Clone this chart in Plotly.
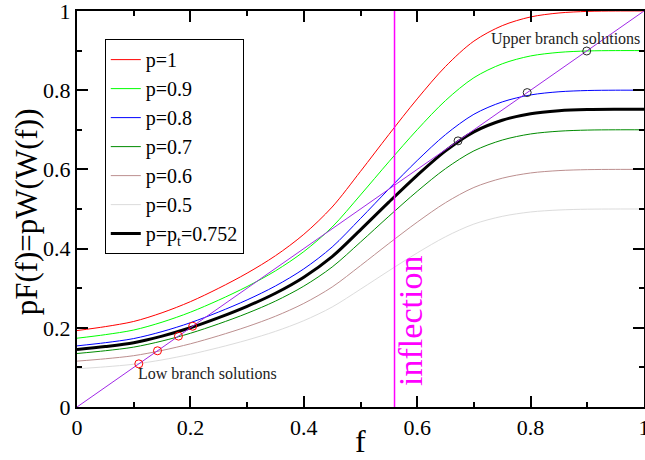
import plotly.graph_objects as go

# f grid and the p = 1 response F(f) = W(W(f))
f_grid = [0.00, 0.05, 0.10, 0.15, 0.20, 0.25, 0.30, 0.35, 0.40, 0.45, 0.50,
          0.55, 0.60, 0.65, 0.70, 0.75, 0.80, 0.85, 0.90, 0.95, 1.00]
F_base = [0.193, 0.203, 0.216, 0.238, 0.266, 0.300, 0.338, 0.382, 0.436, 0.505, 0.595,
          0.688, 0.778, 0.860, 0.924, 0.963, 0.985, 0.995, 0.999, 1.000, 1.000]

# one curve per p value
p_values = [1.0, 0.9, 0.8, 0.7, 0.6, 0.5, 0.752]
p_labels = ["p=1", "p=0.9", "p=0.8", "p=0.7", "p=0.6", "p=0.5", "p=p<sub>t</sub>=0.752"]
p_colors = ["rgb(255,0,0)", "rgb(0,255,0)", "rgb(0,0,255)", "rgb(0,139,0)",
            "rgb(188,143,143)", "rgb(220,220,220)", "rgb(0,0,0)"]
p_widths = [1, 1, 1, 1, 1, 1, 3]

# fixed points pF(f) = f
low_branch = [0.109, 0.142, 0.179, 0.204]
upper_branch = [0.672, 0.794, 0.899]

inflection_f = 0.56

tick_vals = [0, 0.2, 0.4, 0.6, 0.8, 1.0]
tick_text = ["0", "0.2", "0.4", "0.6", "0.8", "1"]

SERIF = "Liberation Serif, Times New Roman, serif"

fig = go.Figure()

for p, name, col, w in zip(p_values, p_labels, p_colors, p_widths):
    fig.add_trace(go.Scatter(
        x=f_grid, y=[p * v for v in F_base], mode="lines", name=name,
        line=dict(color=col, width=w, shape="spline", smoothing=0.9),
    ))

# diagonal y = f
fig.add_trace(go.Scatter(x=[0, 1], y=[0, 1], mode="lines", showlegend=False,
                         line=dict(color="rgb(160,40,230)", width=1)))

# inflection marker
fig.add_trace(go.Scatter(x=[inflection_f, inflection_f], y=[0, 1], mode="lines",
                         showlegend=False, line=dict(color="rgb(255,0,255)", width=1.5)))

fig.add_trace(go.Scatter(x=low_branch, y=low_branch, mode="markers", showlegend=False,
                         marker=dict(symbol="circle-open", size=8, color="rgb(255,0,0)",
                                     line=dict(width=1, color="rgb(255,0,0)"))))
fig.add_trace(go.Scatter(x=upper_branch, y=upper_branch, mode="markers", showlegend=False,
                         marker=dict(symbol="circle-open", size=8, color="rgb(40,40,40)",
                                     line=dict(width=1, color="rgb(40,40,40)"))))

axis_common = dict(
    range=[0, 1], tickmode="array", tickvals=tick_vals, ticktext=tick_text,
    ticklabeloverflow="allow", automargin=False,
    ticks="inside", ticklen=11, tickwidth=1.5, tickcolor="black",
    minor=dict(dtick=0.1, tick0=0, ticks="inside", ticklen=5, tickwidth=1.5,
               tickcolor="black"),
    showline=True, linecolor="black", linewidth=2, mirror="ticks",
    showgrid=False, zeroline=False,
    tickfont=dict(family=SERIF, size=22, color="black"),
)
fig.update_xaxes(**axis_common)
fig.update_yaxes(**axis_common)

fig.update_layout(
    width=645, height=460,
    margin=dict(l=77, r=1, t=11, b=53, autoexpand=False),
    font=dict(family=SERIF, color="black"),
    paper_bgcolor="white", plot_bgcolor="white",
    legend=dict(x=0.049, y=0.929, xanchor="left", yanchor="top",
                bgcolor="white", bordercolor="black", borderwidth=1,
                font=dict(family=SERIF, size=20, color="black"),
                tracegroupgap=0),
    annotations=[
        dict(text="f", xref="paper", yref="paper", x=0.5, y=-0.085,
             xanchor="center", yanchor="middle", showarrow=False,
             font=dict(family=SERIF, size=32, color="black")),
        dict(text="pF(f)=pW(W(f))", xref="paper", yref="paper", x=-0.09, y=0.494,
             xanchor="center", yanchor="middle", textangle=-90, showarrow=False,
             font=dict(family=SERIF, size=31, color="black")),
        dict(text="inflection", x=0.587, y=0.217, xref="x", yref="y",
             xanchor="center", yanchor="middle", textangle=-90, showarrow=False,
             font=dict(family=SERIF, size=34, color="rgb(255,0,255)")),
        dict(text="Low branch solutions", x=0.23, y=0.085, xref="x", yref="y",
             xanchor="center", yanchor="middle", showarrow=False,
             font=dict(family=SERIF, size=16, color="#222")),
        dict(text="Upper branch solutions", x=0.862, y=0.930, xref="x", yref="y",
             xanchor="center", yanchor="middle", showarrow=False,
             font=dict(family=SERIF, size=16, color="#222")),
    ],
)

fig.write_html("out.html")
